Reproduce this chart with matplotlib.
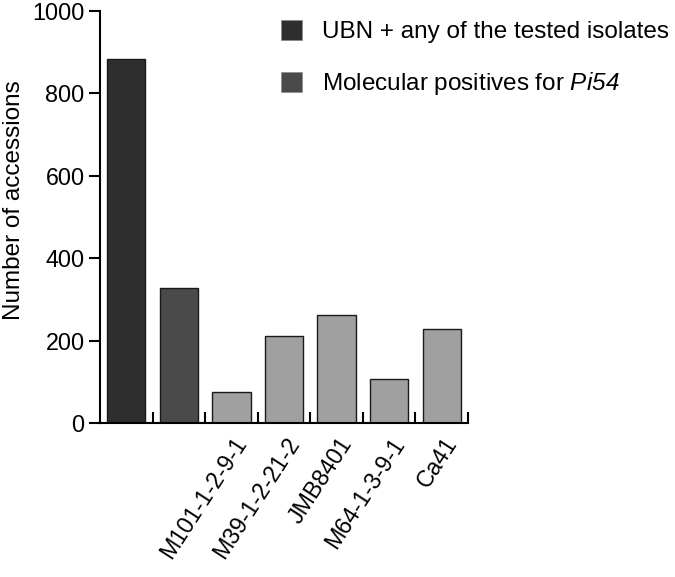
import matplotlib
matplotlib.use("Agg")
import matplotlib.pyplot as plt
from matplotlib.patches import Patch

plt.rcParams["font.family"] = ["Liberation Sans", "DejaVu Sans"]
# only "Pi54" goes through mathtext, so make every math glyph italic
plt.rcParams["mathtext.fontset"] = "custom"
plt.rcParams["mathtext.rm"] = "Liberation Sans:italic"
plt.rcParams["mathtext.it"] = "Liberation Sans:italic"

# data
categories = ["UBN", "Pi54", "M101-1-2-9-1", "M39-1-2-21-2", "JMB8401", "M64-1-3-9-1", "Ca41"]
tick_labels = ["", "", "M101-1-2-9-1", "M39-1-2-21-2", "JMB8401", "M64-1-3-9-1", "Ca41"]
values = [884, 328, 75, 210, 263, 107, 229]
colors = ["#2e2e2e", "#4a4a4a", "#a0a0a0", "#a0a0a0", "#a0a0a0", "#a0a0a0", "#a0a0a0"]
legend_labels = ["UBN + any of the tested isolates", "Molecular positives for $Pi54$"]

FS = 17.5

fig = plt.figure(figsize=(6.75, 5.77), dpi=100)
ax = fig.add_axes([100 / 675, 1 - 423 / 577, 368 / 675, 412 / 577])

x = list(range(len(categories)))
ax.bar(x, values, width=0.73, color=colors, edgecolor="#1a1a1a", linewidth=1.0)

ax.set_xlim(-0.5, len(categories) - 0.5)
ax.set_ylim(0, 1000)
ax.set_yticks([0, 200, 400, 600, 800, 1000])
ax.tick_params(axis="y", direction="out", length=8, width=1.5, labelsize=16.8, pad=3)

# labels sit a little right of the bar centres in the original
ax.set_xticks([i + 0.2 for i in x])
ax.set_xticklabels(tick_labels, rotation=57, ha="right", va="center",
                   rotation_mode="anchor", fontsize=16.7)
ax.tick_params(axis="x", which="major", length=0, pad=12)
ax.set_xticks([i + 0.5 for i in x], minor=True)
ax.tick_params(axis="x", which="minor", direction="in", length=8, width=1.5)

for side in ["top", "right"]:
    ax.spines[side].set_visible(False)
for side in ["left", "bottom"]:
    ax.spines[side].set_linewidth(1.5)

ax.set_ylabel("Number of accessions", fontsize=FS)
ax.yaxis.set_label_coords(-0.205, 0.541)

handles = [Patch(facecolor=colors[0], edgecolor="#888888", linewidth=0.5),
           Patch(facecolor=colors[1], edgecolor="#888888", linewidth=0.5)]
fig.legend(handles, legend_labels, loc="upper left", bbox_to_anchor=(281 / 675, 1 - 20 / 577),
           frameon=False, fontsize=FS, handlelength=0.88, handleheight=0.88,
           handletextpad=0.8, labelspacing=1.1, borderpad=0, borderaxespad=0)

fig.savefig("out.png", dpi=100)
